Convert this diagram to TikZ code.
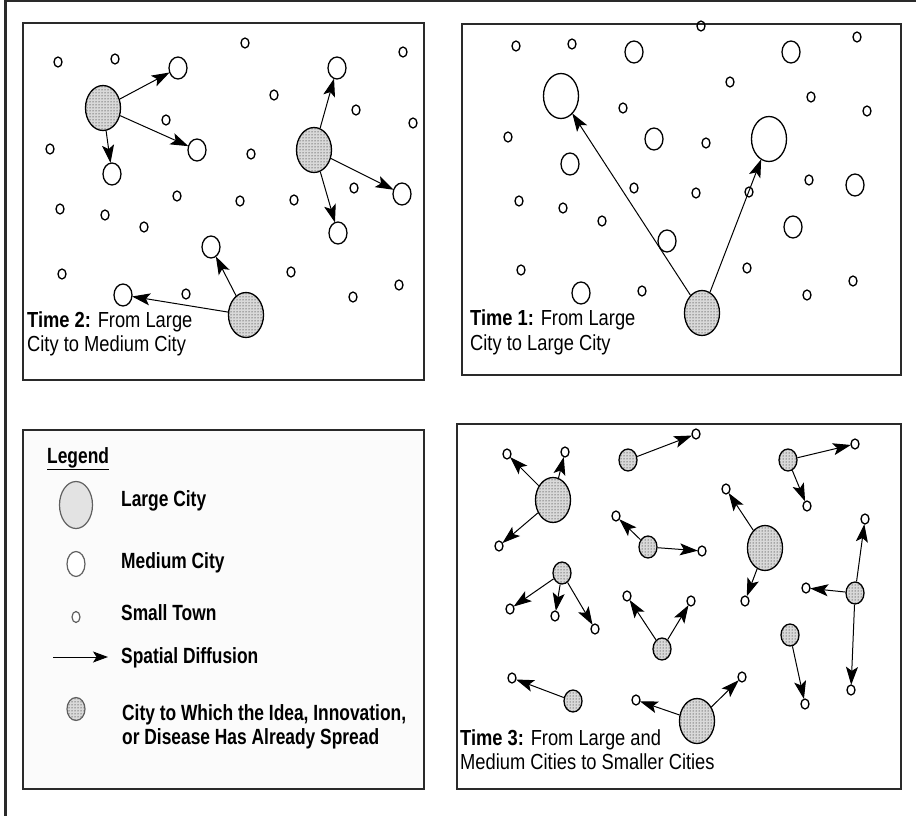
\documentclass[tikz,border=0pt]{standalone}
\usepackage{fontspec}
\setmainfont{Liberation Sans}
\newfontfamily\labfont[FakeStretch=0.84]{Liberation Sans}
\newfontfamily\legfont[FakeStretch=0.79]{Liberation Sans}
\usetikzlibrary{shapes.geometric,patterns,arrows.meta}
\definecolor{frame}{HTML}{2A2A2A}
\tikzset{
  city/.style={ellipse, draw=black, line width=1.3pt, inner sep=0pt},
  small/.style={city, minimum width=8pt, minimum height=10pt},
  medium/.style={city, minimum width=18pt, minimum height=22pt},
  bigw/.style={city, minimum width=35pt, minimum height=45pt},
  dotted city/.style={preaction={fill=gray!30}, pattern=dots},
  bigd/.style={bigw, dotted city},
  medd/.style={medium, dotted city},
  arr/.style={-{Stealth[length=18pt,width=12pt,inset=4pt]}, line width=1pt, shorten >=-0.5pt},
  panel/.style={draw=frame, line width=2pt},
  lab/.style={anchor=base west, inner sep=0pt, font=\labfont\fontsize{21.8}{24}\selectfont},
  leg/.style={anchor=base west, inner sep=0pt, font=\legfont\bfseries\fontsize{22}{24}\selectfont},
  legcity/.style={ellipse, draw=gray!75!black, line width=1.2pt, inner sep=0pt}
}
\begin{document}
\begin{tikzpicture}[x=1pt,y=-1pt]
\useasboundingbox (0,0) rectangle (916,816);
% outer frame (top and left)
\draw[frame, line width=2.4pt] (5.5,816) -- (5.5,1.2) -- (916,1.2);
% panels
\draw[panel] (22.7,23.3) rectangle (424,380);
\draw[panel] (462,24) rectangle (900.7,375);
\draw[panel, fill=gray!3] (22.7,430) rectangle (424,789);
\draw[panel] (457,424) rectangle (901,789);

% ---------------- Time 2 ----------------
\foreach \x/\y [count=\i] in {58/62,115/59,245/43,403/52,274/95,356/110,413/123,166/120,50/149,251/154,354/188,177/196,240/201,294/200,60/209,105/215,144/227,62/274,291/272,399/285,353/297,186/294}
  \node[small] (ta\i) at (\x,\y) {};
\node[medium] (m2a) at (178,68) {};
\node[medium] (m2b) at (337,68) {};
\node[medium] (m2c) at (197,150) {};
\node[medium] (m2d) at (112,174) {};
\node[medium] (m2e) at (402,194) {};
\node[medium] (m2f) at (338,233) {};
\node[medium] (m2g) at (211,247) {};
\node[medium] (m2h) at (123,295) {};
\node[bigd] (A2) at (103,108) {};
\node[bigd] (B2) at (314,150) {};
\node[bigd] (C2) at (246,315) {};
\draw[arr] (A2) -- (m2a);
\draw[arr] (A2) -- (m2c);
\draw[arr] (A2) -- (m2d);
\draw[arr] (B2) -- (m2b);
\draw[arr] (B2) -- (m2e);
\draw[arr] (B2) -- (m2f);
\draw[arr] (C2) -- (m2g);
\draw[arr] (C2) -- (m2h);
\node[lab] (t2a) at (27,327) {\textbf{Time 2:} From Large};
\node[lab] (t2b) at (27,351) {City to Medium City};

% ---------------- Time 1 ----------------
\foreach \x/\y [count=\i] in {516/46,572/44,701/26,857/37,730/82,811/97,867/111,623/108,508/137,706/143,809/180,634/188,696/193,749/192,519/201,563/208,602/221,521/270,747/268,853/281,807/295,642/291}
  \node[small] (tb\i) at (\x,\y) {};
\foreach \x/\y [count=\i] in {634/52,791/52,654/139,570/164,855/185,793/227,667/241,581/293}
  \node[medium] (mb\i) at (\x,\y) {};
\node[bigw] (W1a) at (561,96) {};
\node[bigw] (W1b) at (769,139) {};
\node[bigd] (D1) at (702,313) {};
\draw[arr] (D1) -- (W1a);
\draw[arr] (D1) -- (W1b);
\node[lab] (t1a) at (470,325) {\textbf{Time 1:} From Large};
\node[lab] (t1b) at (470,350) {City to Large City};

% ---------------- Time 3 ----------------
\node[small] (s1) at (507,454) {};
\node[small] (s2) at (565,452) {};
\node[small] (s3) at (696,434) {};
\node[small] (s4) at (855,444) {};
\node[small] (s5) at (726,489) {};
\node[small] (s6) at (807,506) {};
\node[small] (s7) at (865,519) {};
\node[small] (s8) at (616,516) {};
\node[small] (s9) at (499,546) {};
\node[small] (s10) at (702,551) {};
\node[small] (s11) at (806,588) {};
\node[small] (s12) at (627,596) {};
\node[small] (s13) at (691,601) {};
\node[small] (s14) at (745,601) {};
\node[small] (s15) at (510,609) {};
\node[small] (s16) at (555,616) {};
\node[small] (s17) at (595,629) {};
\node[small] (s18) at (512,678) {};
\node[small] (s19) at (742,677) {};
\node[small] (s20) at (851,690) {};
\node[small] (s21) at (805,704) {};
\node[small] (s22) at (636,700) {};
\node[bigd] (L3a) at (553,500) {};
\node[bigd] (L3b) at (765,548) {};
\node[bigd] (L3c) at (697,721) {};
\node[medd] (n1) at (628,460) {};
\node[medd] (n2) at (788,460) {};
\node[medd] (n3) at (648,547) {};
\node[medd] (n4) at (562,573) {};
\node[medd] (n5) at (855,593) {};
\node[medd] (n6) at (790,635) {};
\node[medd] (n7) at (662,649) {};
\node[medd] (n8) at (573,701) {};
\draw[arr] (L3a) -- (s1);
\draw[arr] (L3a) -- (s2);
\draw[arr] (L3a) -- (s9);
\draw[arr] (n1) -- (s3);
\draw[arr] (n2) -- (s4);
\draw[arr] (n2) -- (s6);
\draw[arr] (L3b) -- (s5);
\draw[arr] (L3b) -- (s14);
\draw[arr] (n3) -- (s8);
\draw[arr] (n3) -- (s10);
\draw[arr] (n4) -- (s15);
\draw[arr] (n4) -- (s16);
\draw[arr] (n4) -- (s17);
\draw[arr] (n5) -- (s7);
\draw[arr] (n5) -- (s11);
\draw[arr] (n5) -- (s20);
\draw[arr] (n6) -- (s21);
\draw[arr] (n7) -- (s12);
\draw[arr] (n7) -- (s13);
\draw[arr] (n8) -- (s18);
\draw[arr] (L3c) -- (s22);
\draw[arr] (L3c) -- (s19);
\node[lab] (t3a) at (460,745) {\textbf{Time 3:} From Large and};
\node[lab] (t3b) at (460,769) {Medium Cities to Smaller Cities};

% ---------------- Legend ----------------
\node[leg] (lgt) at (47,463) {\underline{Legend}};
\node[legcity, fill=gray!22, minimum width=33pt, minimum height=47pt] (lg1) at (76,505) {};
\node[legcity, fill=white, minimum width=18pt, minimum height=25pt] (lg2) at (76,564) {};
\node[legcity, fill=white, minimum width=8pt, minimum height=11pt] (lg3) at (76,617) {};
\coordinate (lga) at (53,657);
\coordinate (lgb) at (108,657);
\draw[-{Stealth[length=15pt,width=11pt,inset=3.5pt]}, line width=1pt] (lga) -- (lgb);
\node[legcity, dotted city, minimum width=18pt, minimum height=23pt] (lg5) at (76,709) {};
\node[leg] (lt1) at (121,506) {Large City};
\node[leg] (lt2) at (121,568) {Medium City};
\node[leg] (lt3) at (121,620) {Small Town};
\node[leg] (lt4) at (121,663) {Spatial Diffusion};
\node[leg] (lt5) at (122,720) {City to Which the Idea, Innovation,};
\node[leg] (lt6) at (122,744) {or Disease Has Already Spread};
\end{tikzpicture}
\end{document}
